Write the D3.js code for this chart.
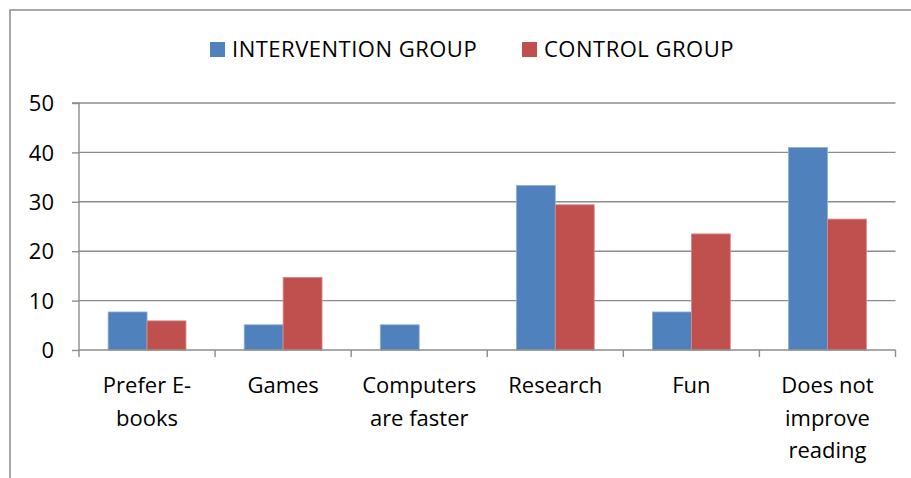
<!DOCTYPE html>
<html><head><meta charset="utf-8">
<script src="https://cdn.jsdelivr.net/npm/d3@7"></script>
<style>
html,body{margin:0;padding:0;background:#fff;}
text{font-family:"Open Sans",sans-serif;fill:#000;}
</style></head>
<body>
<svg id="chart" width="911" height="478"></svg>
<script>
const categories = ["Prefer E-books","Games","Computers are faster","Research","Fun","Does not improve reading"];
const categoryLines = [["Prefer E-","books"],["Games"],["Computers","are faster"],["Research"],["Fun"],["Does not","improve","reading"]];
const seriesNames = ["INTERVENTION GROUP","CONTROL GROUP"];
const intervention = [7.7, 5.1, 5.1, 33.3, 7.7, 41.0];
const control = [5.9, 14.7, 0, 29.4, 23.5, 26.5];
const yTicks = [0,10,20,30,40,50];
const colors = ["#4F81BD","#C0504D"];
const strokes = ["#8fb0da","#d98a88"];

(function(){
const svg = d3.select("#chart");
const mLeft = 79, mRight = 895.5, mTop = 103, mBottom = 350;

// outer border
svg.append("rect").attr("x",10).attr("y",10).attr("width",920).attr("height",500)
  .attr("fill","none").attr("stroke","#8c8c8c").attr("stroke-width",1.5);

const x = d3.scaleBand().domain(categories).range([mLeft,mRight]).padding(0);
const y = d3.scaleLinear().domain([0,50]).range([mBottom,mTop]);
const bw = x.bandwidth();
const gw = bw*0.572;
const x1 = d3.scaleBand().domain(seriesNames).range([(bw-gw)/2,(bw+gw)/2]).padding(0);

// gridlines
svg.append("g").selectAll("line").data(yTicks.filter(d=>d>0)).join("line")
  .attr("x1",mLeft).attr("x2",mRight).attr("y1",d=>y(d)).attr("y2",d=>y(d))
  .attr("stroke","#8c8c8c").attr("stroke-width",1.4);

// bars
const data = categories.map((c,i)=>({c, vals:[intervention[i],control[i]]}));
const groups = svg.append("g").selectAll("g").data(data).join("g")
  .attr("transform",d=>`translate(${x(d.c)},0)`);
groups.selectAll("rect").data(d=>d.vals.map((v,j)=>({v,j}))).join("rect")
  .attr("x",d=>x1(seriesNames[d.j])).attr("width",x1.bandwidth())
  .attr("y",d=>y(d.v)).attr("height",d=>y(0)-y(d.v))
  .attr("fill",d=>colors[d.j]).attr("stroke",d=>d.v>0?strokes[d.j]:"none").attr("stroke-width",0.8);

// y axis
const yAxis = d3.axisLeft(y).tickValues(yTicks).tickSize(7).tickPadding(18);
const gy = svg.append("g").attr("transform",`translate(${mLeft},0)`).call(yAxis);
gy.select(".domain").attr("stroke","#8c8c8c").attr("stroke-width",1.4).attr("d",`M-7,${mTop}H0V${mBottom}`);
gy.selectAll(".tick line").attr("stroke","#8c8c8c").attr("stroke-width",1.4);
gy.selectAll(".tick text").attr("font-size",22).attr("font-family","Open Sans").attr("fill","#000").attr("dy","0.35em");

// x axis
const xAxis = d3.axisBottom(x).tickSize(0).tickFormat("");
const gx = svg.append("g").attr("transform",`translate(0,${mBottom})`).call(xAxis);
gx.select(".domain").attr("stroke","#8c8c8c").attr("stroke-width",1.4).attr("d",`M${mLeft},0H${mRight}`);
const bounds = categories.map(c=>x(c)).concat([mRight]);
gx.selectAll(".sep").data(bounds).join("line").attr("class","sep")
  .attr("x1",d=>d).attr("x2",d=>d).attr("y1",0).attr("y2",7)
  .attr("stroke","#8c8c8c").attr("stroke-width",1.4);
gx.selectAll(".tick text").remove();
const lab = svg.append("g");
categories.forEach((c,i)=>{
  const t = lab.append("text").attr("x",x(c)+bw/2).attr("y",393)
    .attr("text-anchor","middle").attr("font-size",22);
  categoryLines[i].forEach((ln,k)=>{
    t.append("tspan").attr("x",x(c)+bw/2).attr("y",393+k*32.5).text(ln);
  });
});

// legend
const legX = [210, 522];
const leg = svg.append("g");
seriesNames.forEach((s,i)=>{
  leg.append("rect").attr("x",legX[i]).attr("y",42).attr("width",15).attr("height",15).attr("fill",colors[i]);
  leg.append("text").attr("x",legX[i]+22).attr("y",57).attr("font-size",22)
    .attr("letter-spacing","0.5px").text(s);
});
})();
</script>
</body></html>
